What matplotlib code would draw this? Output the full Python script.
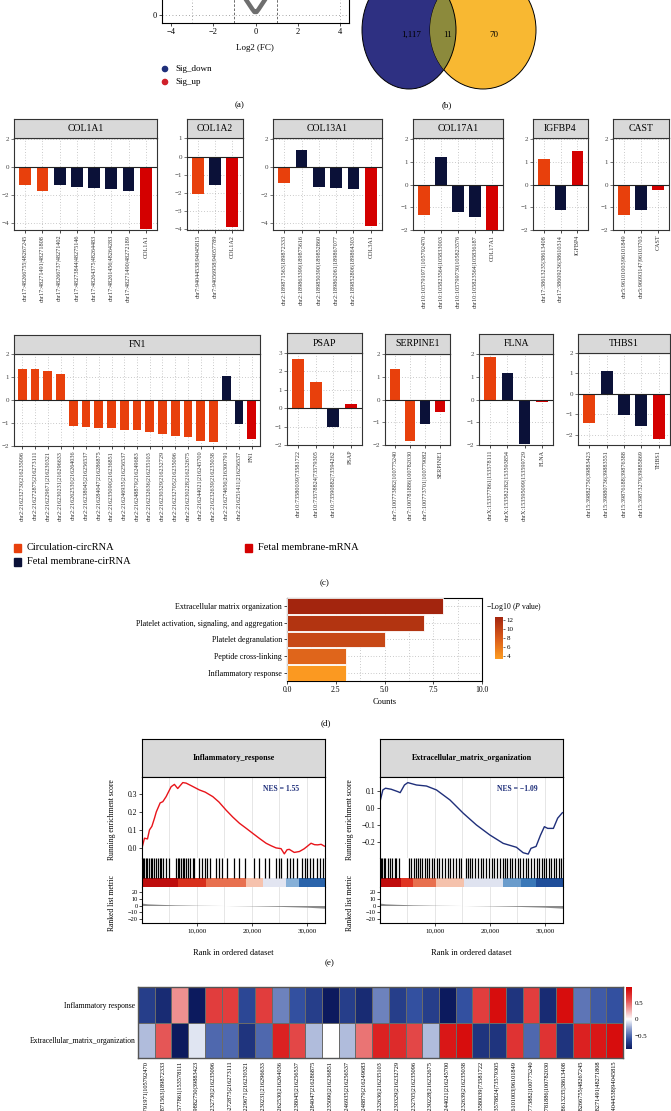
import numpy as np
import matplotlib
matplotlib.use('Agg')
import matplotlib.pyplot as plt
from matplotlib.patches import Ellipse, Rectangle
from matplotlib.colors import LinearSegmentedColormap, Normalize
from matplotlib.cm import ScalarMappable

plt.rcParams['font.family'] = ['Liberation Serif', 'DejaVu Serif']
plt.rcParams['mathtext.fontset'] = 'stix'

W, H = 671, 1111

# ---------------- data ----------------
# (a) volcano (visible bottom part only)
volc_fc = [-0.55, -0.45, -0.35, -0.25, -0.15, -0.05, 0.05, 0.15, 0.25, 0.35, 0.45, 0.55]
volc_logp = [2.4, 1.9, 1.5, 1.1, 0.7, 0.35, 0.35, 0.7, 1.1, 1.5, 1.9, 2.4]

# (b) venn counts
venn_counts = ['1,117', '11', '70']

# (c) bar panels
kind_colors = {'c': '#e8400c', 'f': '#0b1138', 'm': '#d40000'}

col1a1_labels = ['chr17:48266755|48267245', 'chr17:48271491|48271808', 'chr17:48266737|48271402',
                 'chr17:48273844|48275146', 'chr17:48264375|48264483', 'chr17:48261456|48264283',
                 'chr17:48271490|48272189', 'COL1A1']
col1a1_values = [-1.27, -1.74, -1.32, -1.41, -1.53, -1.55, -1.72, -4.4]
col1a1_kinds = ['c', 'c', 'f', 'f', 'f', 'f', 'f', 'm']

col1a2_labels = ['chr7:94044538|94045815', 'chr7:94056958|94057789', 'COL1A2']
col1a2_values = [-2.06, -1.55, -3.87]
col1a2_kinds = ['c', 'f', 'm']

col13a1_labels = ['chr2:189871563|189872333', 'chr2:189863399|189875616', 'chr2:189850390|189852860',
                  'chr2:189862061|189867077', 'chr2:189852806|189864303', 'COL3A1']
col13a1_values = [-1.13, 1.18, -1.45, -1.54, -1.59, -4.2]
col13a1_kinds = ['c', 'f', 'f', 'f', 'f', 'm']

col17a1_labels = ['chr10:105791971|105792470', 'chr10:105823564|105833003', 'chr10:105799730|105823576',
                  'chr10:105823564|105836187', 'COL17A1']
col17a1_values = [-1.32, 1.21, -1.19, -1.44, -2.0]
col17a1_kinds = ['c', 'f', 'f', 'f', 'm']

igfbp4_labels = ['chr17:38613235|38613408', 'chr17:38609236|38610314', 'IGFBP4']
igfbp4_values = [1.13, -1.13, 1.48]
igfbp4_kinds = ['c', 'f', 'm']

cast_labels = ['chr5:96101003|96101849', 'chr5:96093147|96103703', 'CAST']
cast_values = [-1.35, -1.11, -0.22]
cast_kinds = ['c', 'f', 'm']

fn1_labels = ['chr2:216232730|216235096', 'chr2:216272875|216273111', 'chr2:216229671|216230321',
              'chr2:216230231|216296633', 'chr2:216262530|216264036', 'chr2:216238045|216256537',
              'chr2:216284047|216286875', 'chr2:216235090|216236851', 'chr2:216246935|216256537',
              'chr2:216248879|216249683', 'chr2:216232636|216235103', 'chr2:216230329|216232729',
              'chr2:216232705|216235096', 'chr2:216230228|216232675', 'chr2:216244021|216245700',
              'chr2:216232639|216235038', 'chr2:216274656|216300791', 'chr2:216251411|216256537', 'FN1']
fn1_values = [1.35, 1.35, 1.28, 1.13, -1.13, -1.19, -1.23, -1.23, -1.29, -1.29, -1.41, -1.49,
              -1.58, -1.61, -1.77, -1.81, 1.04, -1.04, -1.71]
fn1_kinds = ['c'] * 16 + ['f', 'f', 'm']

psap_labels = ['chr10:73580039|73581722', 'chr10:73578824|73579305', 'chr10:73590882|73594262', 'PSAP']
psap_values = [2.7, 1.45, -1.03, 0.25]
psap_kinds = ['c', 'c', 'f', 'm']

serpine1_labels = ['chr7:100773882|100775240', 'chr7:100781886|100782030', 'chr7:100773701|100779082', 'SERPINE1']
serpine1_values = [1.32, -1.84, -1.09, -0.56]
serpine1_kinds = ['c', 'c', 'f', 'm']

flna_labels = ['chrX:153577861|153578111', 'chrX:153582282|153593854', 'chrX:153595099|153599729', 'FLNA']
flna_values = [1.88, 1.15, -1.94, -0.1]
flna_kinds = ['c', 'f', 'f', 'm']

thbs1_labels = ['chr15:39882750|39883423', 'chr15:39880736|39883551', 'chr15:39876188|39876388',
                'chr15:39873279|39885869', 'THBS1']
thbs1_values = [-1.44, 1.1, -1.05, -1.57, -2.21]
thbs1_kinds = ['c', 'f', 'f', 'f', 'm']

# (d) GO enrichment
go_terms = ['Extracellular matrix organization', 'Platelet activation, signaling, and aggregation',
            'Platelet degranulation', 'Peptide cross-linking', 'Inflammatory response']
go_counts = [8, 7, 5, 3, 3]
go_logp = [12.8, 11.4, 9.6, 7.2, 3.6]

# (e) GSEA
left_es_rank = [0, 450, 1000, 1360, 1800, 2270, 2600, 2880, 3300, 3790, 4390, 4800, 5300, 5900, 6500,
                7420, 8030, 9000, 10450, 11500, 12880, 14000, 15300, 16500, 17730, 19000, 20150, 21400,
                22580, 23500, 24400, 25300, 25900, 26400, 26800, 27700, 28640, 29500, 30200, 30760,
                31400, 31970, 32600, 33180]
left_es = [0.0, 0.054, 0.05, 0.1, 0.12, 0.165, 0.2, 0.22, 0.25, 0.257, 0.285, 0.31, 0.34, 0.353, 0.33,
           0.363, 0.36, 0.345, 0.322, 0.31, 0.285, 0.255, 0.21, 0.172, 0.137, 0.108, 0.081, 0.052,
           0.026, 0.012, 0.0, -0.004, -0.033, -0.01, -0.008, -0.025, -0.02, -0.005, 0.012, 0.026,
           0.018, 0.017, 0.02, 0.01]
right_es_rank = [0, 520, 1000, 2030, 3240, 3670, 4450, 5060, 6640, 8450, 10270, 12730, 15150, 17550,
                 20000, 22420, 24820, 26050, 26970, 27480, 28400, 29200, 29910, 30520, 31550, 32330, 33180]
right_es = [0.037, 0.106, 0.116, 0.11, 0.096, 0.09, 0.135, 0.149, 0.135, 0.129, 0.106, 0.047, -0.031,
            -0.1, -0.159, -0.208, -0.231, -0.263, -0.271, -0.237, -0.226, -0.16, -0.11, -0.12, -0.12,
            -0.06, -0.028]
left_hits = [150, 400, 700, 950, 1300, 1600, 1900, 2200, 2500, 2900, 3200, 3500, 3900, 4300, 5000,
             6200, 6500, 6800, 7100, 7400, 7700, 8000, 8400, 8800, 9200, 9500, 10300, 10900, 11400,
             11900, 12400, 13500, 14100, 14500, 15500, 16800, 17700, 18800, 20300, 21200, 22400,
             23100, 24400, 24900, 25300, 26300, 26900, 27400, 28200, 29100, 29600, 30100, 30500,
             31200, 31800, 32400, 32900]
right_hits = [100, 400, 700, 1000, 1400, 1800, 2200, 2700, 3000, 3400, 5300, 5700, 6100, 6500, 6900,
              7300, 7700, 8100, 8500, 9000, 9400, 9800, 10300, 10800, 11300, 11800, 12300, 12800,
              13300, 13800, 14300, 14700, 15600, 16000, 16400, 16800, 17300, 17800, 18300, 18800,
              19300, 19800, 20300, 20800, 21300, 21800, 22300, 22700, 23100, 23600, 24100, 24600,
              25100, 25500, 26000, 26500, 27000, 27500, 28000, 28500, 29000, 29400, 29800, 30200,
              30700, 31100, 31600, 32000, 32500, 32900]
left_band_edges = [0, 6500, 11650, 18900, 21950, 26200, 28600, 33300]
left_band_colors = ['#be0d0d', '#d8301c', '#e8704f', '#f6c2ad', '#e2e5f1', '#86b0d8', '#2a64ab']
right_band_edges = [0, 3800, 5950, 10200, 15350, 22300, 25700, 28400, 33300]
right_band_colors = ['#c00c0c', '#e03422', '#e8704f', '#f5c2ac', '#dfe3f0', '#6a9ccc', '#3a78b8', '#1f4e9a']
metric_rank = [0, 1000, 3000, 6000, 10000, 15000, 20000, 25000, 30000, 33300]
metric_val = [3.5, 2.5, 1.8, 1.0, 0.4, 0.0, -0.5, -1.3, -2.5, -4.0]

# (f) heatmap
hm_rows = ['Inflammatory response', 'Extracellular_matrix_organization']
hm_labels = ['chr10:105791971|105792470', 'chr2:189871563|189872333', 'chrX:153577861|153578111',
             'chr15:39882750|39883423', 'chr2:216232730|216235096', 'chr2:216272875|216273111',
             'chr2:216229671|216230321', 'chr2:216230231|216296633', 'chr2:216262530|216264036',
             'chr2:216238045|216256537', 'chr2:216284047|216286875', 'chr2:216235090|216236851',
             'chr2:216246935|216256537', 'chr2:216248879|216249683', 'chr2:216232636|216235103',
             'chr2:216230329|216232729', 'chr2:216232705|216235096', 'chr2:216230228|216232675',
             'chr2:216244021|216245700', 'chr2:216232639|216235038', 'chr10:73580039|73581722',
             'chr10:73578824|73579305', 'chr5:96101003|96101849', 'chr7:100773882|100775240',
             'chr7:100781886|100782030', 'chr17:38613235|38613408', 'chr17:48266755|48267245',
             'chr17:48271491|48271808', 'chr7:94044538|94045815']
hm_inflam = [-0.7, -0.8, 0.35, -0.95, 0.65, 0.65, -0.65, 0.65, -0.4, -0.6, -0.7, -0.95, -0.7, -0.8,
             -0.4, -0.7, -0.6, -0.7, -0.95, -0.6, 0.65, 0.9, -0.75, 0.65, -0.8, 0.9, -0.45, -0.55, -0.6]
hm_ecm = [-0.2, 0.55, -0.95, -0.08, -0.5, -0.5, -0.75, -0.5, 0.8, 0.6, -0.2, 0.0, -0.2, 0.45, 0.8,
          0.75, 0.6, -0.2, 0.85, 0.9, -0.75, -0.75, 0.7, -0.5, 0.7, -0.75, 0.8, 0.85, 0.9]

# ---------------- figure ----------------
fig = plt.figure(figsize=(W / 100, H / 100), dpi=100)


def px_axes(x0, y0, x1, y1):
    return fig.add_axes([x0 / W, 1 - y1 / H, (x1 - x0) / W, (y1 - y0) / H])


def minus(v):
    return ('%g' % v).replace('-', '\u2212')


# overlay for free text / venn
ov = px_axes(0, 0, W, H)
ov.set_xlim(0, W)
ov.set_ylim(H, 0)
ov.axis('off')

# ---- (a) volcano ----
ax_a = px_axes(162, -100, 349, 22.7)
ax_a.plot(volc_fc, volc_logp, color='#6e6e6e', lw=3.2, solid_joinstyle='round', solid_capstyle='round')
ax_a.set_xlim(-4.41, 4.41)
ax_a.set_ylim(-1, 14.4)
ax_a.set_xticks([-4, -2, 0, 2, 4])
ax_a.set_xticklabels([minus(v) for v in [-4, -2, 0, 2, 4]])
ax_a.set_yticks([0])
ax_a.tick_params(labelsize=6, length=2, width=0.5, pad=2)
for v in [-3, 4]:
    ax_a.axvline(v, color='#888', ls=(0, (1, 3)), lw=0.6)
for v in [-1, 1]:
    ax_a.axvline(v, color='#555', ls=(0, (3, 2)), lw=0.6)
ax_a.axhline(0, color='#888', ls=(0, (1, 3)), lw=0.6)
for s in ax_a.spines.values():
    s.set_linewidth(0.8)
ov.text(255, 48, 'Log2 (FC)', ha='center', va='center', fontsize=6.5)
ov.scatter([165, 165], [69, 82], s=14, color=['#1f2f7a', '#d0202a'])
ov.text(175, 69, 'Sig_down', va='center', fontsize=6.5)
ov.text(175, 82, 'Sig_up', va='center', fontsize=6.5)
ov.text(240, 105, '(a)', ha='center', va='center', fontsize=6.5)

# ---- (b) venn ----
ov.add_patch(Ellipse((409, 30), 94, 118, facecolor='#2e3082', edgecolor='black', lw=0.7))
ov.add_patch(Ellipse((483, 30), 106, 118, facecolor='#f8b832', edgecolor='black', lw=0.7))
lens = Ellipse((409, 30), 94, 118, facecolor='#8c8a3c', edgecolor='black', lw=0.7)
ov.add_patch(lens)
lens.set_clip_path(Ellipse((483, 30), 106, 118, transform=ov.transData))
ov.text(411, 35, venn_counts[0], ha='center', va='center', fontsize=6.5)
ov.text(448, 35, venn_counts[1], ha='center', va='center', fontsize=6.5)
ov.text(494, 35, venn_counts[2], ha='center', va='center', fontsize=6.5)
ov.text(447, 105, '(b)', ha='center', va='center', fontsize=6.5)


# ---- (c) bar panels ----
def bar_panel(x0, x1, y_strip, y_top, y_bot, title, labels, values, kinds, ylim, yticks):
    ax = px_axes(x0, y_top, x1, y_bot)
    n = len(values)
    xs = np.arange(n)
    ax.bar(xs, values, width=0.68, color=[kind_colors[k] for k in kinds], zorder=3)
    ax.axhline(0, color='#222', lw=0.8, zorder=4)
    ax.set_xlim(-0.65, n - 0.35)
    ax.set_ylim(*ylim)
    ax.set_yticks(yticks)
    ax.set_yticklabels([minus(t) for t in yticks])
    ax.set_xticks(xs)
    ax.set_xticklabels(labels, rotation=90, fontsize=4.4, color='#333')
    ax.tick_params(axis='y', labelsize=5, length=2, width=0.5, pad=1.5, colors='#444')
    ax.tick_params(axis='x', length=2, width=0.5, pad=1.5)
    ax.grid(True, ls=(0, (1, 3)), color='#999', lw=0.5, zorder=0)
    for s in ax.spines.values():
        s.set_color('#333')
        s.set_linewidth(0.8)
    st = px_axes(x0, y_strip, x1, y_top)
    st.set_facecolor('#d9d9d9')
    st.set_xticks([])
    st.set_yticks([])
    for s in st.spines.values():
        s.set_color('#333')
        s.set_linewidth(0.8)
    st.text(0.5, 0.5, title, ha='center', va='center', fontsize=7, transform=st.transAxes)


bar_panel(14, 157, 119, 138, 230, 'COL1A1', col1a1_labels, col1a1_values, col1a1_kinds, (-4.5, 2.05), [-4, -2, 0, 2])
bar_panel(187, 243, 119, 138, 230, 'COL1A2', col1a2_labels, col1a2_values, col1a2_kinds, (-4.03, 1.02), [-4, -3, -2, -1, 0, 1])
bar_panel(273, 382, 119, 138, 230, 'COL13A1', col13a1_labels, col13a1_values, col13a1_kinds, (-4.5, 2.05), [-4, -2, 0, 2])
bar_panel(413, 503, 119, 138, 230, 'COL17A1', col17a1_labels, col17a1_values, col17a1_kinds, (-2, 2.05), [-2, -1, 0, 1, 2])
bar_panel(533, 588, 119, 138, 230, 'IGFBP4', igfbp4_labels, igfbp4_values, igfbp4_kinds, (-2, 2.05), [-2, -1, 0, 1, 2])
bar_panel(613, 669, 119, 138, 230, 'CAST', cast_labels, cast_values, cast_kinds, (-2, 2.05), [-2, -1, 0, 1, 2])

bar_panel(14, 260, 335, 354, 446, 'FN1', fn1_labels, fn1_values, fn1_kinds, (-2, 2), [-2, -1, 0, 1, 2])
bar_panel(287, 362, 333, 353, 445, 'PSAP', psap_labels, psap_values, psap_kinds, (-2, 3), [-2, -1, 0, 1, 2, 3])
bar_panel(385, 450, 334, 354, 445, 'SERPINE1', serpine1_labels, serpine1_values, serpine1_kinds, (-2, 2), [-2, -1, 0, 1, 2])
bar_panel(479, 553, 334, 354, 445, 'FLNA', flna_labels, flna_values, flna_kinds, (-2, 2), [-2, -1, 0, 1, 2])
bar_panel(578, 670, 334, 353, 445, 'THBS1', thbs1_labels, thbs1_values, thbs1_kinds, (-2.5, 2.0), [-2, -1, 0, 1, 2])

# legend of (c)
for (x, y, k, lab) in [(14, 548, 'c', 'Circulation-circRNA'), (14, 562, 'f', 'Fetal membrane-cirRNA'),
                       (245, 548, 'm', 'Fetal membrane-mRNA')]:
    ov.add_patch(Rectangle((x, y - 4), 7, 8, color=kind_colors[k]))
    ov.text(x + 13, y, lab, va='center', fontsize=7.5)
ov.text(325, 583, '(c)', ha='center', va='center', fontsize=6.5)

# ---- (d) GO bars ----
cmap_d = LinearSegmentedColormap.from_list('go', ['#fd9d21', '#d95a1a', '#a3250e'])
norm_d = Normalize(3.3, 12.7)
ax_d = px_axes(287, 598, 482, 681)
ypos = np.arange(len(go_terms))[::-1]
ax_d.barh(ypos, go_counts, height=0.94, color=cmap_d(norm_d(go_logp)), edgecolor='white', lw=0.6, zorder=3)
ax_d.set_xlim(0, 10)
ax_d.set_ylim(-0.5, len(go_terms) - 0.5)
ax_d.set_yticks(ypos)
ax_d.set_yticklabels(go_terms, fontsize=5.8)
ax_d.set_xticks([0, 2.5, 5, 7.5, 10])
ax_d.set_xticklabels(['0.0', '2.5', '5.0', '7.5', '10.0'], fontsize=5.5)
ax_d.set_xticks([1.25, 3.75, 6.25, 8.75], minor=True)
ax_d.tick_params(axis='both', length=2, width=0.5, pad=1.5)
ax_d.tick_params(axis='x', which='minor', length=0)
ax_d.grid(True, which='both', ls=(0, (1, 3)), color='#999', lw=0.5, zorder=0)
ax_d.set_xlabel('Counts', fontsize=6, labelpad=3)
for s in ax_d.spines.values():
    s.set_linewidth(0.8)
cax_d = px_axes(495, 617, 503, 659)
cb = fig.colorbar(ScalarMappable(norm=norm_d, cmap=cmap_d), cax=cax_d, ticks=[4, 6, 8, 10, 12])
cb.outline.set_visible(False)
cax_d.tick_params(labelsize=5, length=1.5, width=0.4, pad=1)
ov.text(486, 607, '\u2212Log10 ($P$ value)', va='center', fontsize=5.5)
ov.text(326, 723, '(d)', ha='center', va='center', fontsize=6.5)


# ---- (e) GSEA ----
def gsea_panel(x0, x1, title, es_rank, es, color, ylim, yticks, hits, b_edges, b_colors, nes):
    st = px_axes(x0, 739, x1, 777)
    st.set_facecolor('#d9d9d9')
    st.set_xticks([])
    st.set_yticks([])
    st.text(0.5, 0.5, title, ha='center', va='center', fontsize=5.8, fontweight='bold', transform=st.transAxes)
    for s in st.spines.values():
        s.set_linewidth(0.8)

    ax = px_axes(x0, 777, x1, 858)
    ax.plot(es_rank, es, color=color, lw=1.0)
    ax.set_xlim(0, 33300)
    ax.set_ylim(*ylim)
    ax.set_yticks(yticks)
    ax.set_yticklabels(['%.1f' % t if t >= 0 else '\u2212%.1f' % -t for t in yticks])
    ax.set_xticks([])
    for v in range(5000, 33300, 5000):
        ax.axvline(v, color='#e2e2e2', lw=0.6, zorder=0)
    ax.spines['bottom'].set_visible(False)
    ax.tick_params(labelsize=5.5, length=2, width=0.5, pad=1.5)
    ax.text(0.86, 0.85, nes, transform=ax.transAxes, ha='right', va='center', fontsize=5.5,
            color='#1f2f7a', fontweight='bold')

    hx = px_axes(x0, 858, x1, 887)
    hx.set_xlim(0, 33300)
    hx.set_ylim(0, 1)
    hx.vlines(hits, 0.31, 1, color='black', lw=0.9)
    for a, b, c in zip(b_edges[:-1], b_edges[1:], b_colors):
        hx.axvspan(a, b, 0, 0.31, color=c, lw=0)
    hx.set_xticks([])
    hx.set_yticks([])
    hx.spines['top'].set_visible(False)
    hx.spines['bottom'].set_visible(False)

    rx = px_axes(x0, 887, x1, 923)
    rx.fill_between(metric_rank, metric_val, 0, color='#8a8a8a', lw=0)
    rx.set_xlim(0, 33300)
    rx.set_ylim(-25.9, 27.4)
    for v in range(5000, 33300, 5000):
        rx.axvline(v, color='#e2e2e2', lw=0.6, zorder=0)
    rx.set_yticks([20, 10, 0, -10, -20])
    rx.set_yticklabels(['20', '10', '0', '\u221210', '\u221220'])
    rx.set_xticks([10000, 20000, 30000])
    rx.set_xticklabels(['10,000', '20,000', '30,000'])
    rx.tick_params(labelsize=5, length=2, width=0.5, pad=1.5)
    rx.tick_params(axis='y', labelsize=4.6, pad=1)
    rx.spines['top'].set_visible(False)
    for a in (ax, hx, rx):
        for s in a.spines.values():
            s.set_linewidth(0.8)
    xc = (x0 + x1) / 2
    ov.text(xc, 953, 'Rank in ordered dataset', ha='center', va='center', fontsize=6)
    ov.text(x0 - 30, 820, 'Running enrichment score', ha='center', va='center', rotation=90, fontsize=5.5)
    ov.text(x0 - 30, 903, 'Ranked list metric', ha='center', va='center', rotation=90, fontsize=5.5)


gsea_panel(142, 325, 'Inflammatory_response', left_es_rank, left_es, '#e8141a', (-0.056, 0.394),
           [0.0, 0.1, 0.2, 0.3], left_hits, left_band_edges, left_band_colors, 'NES = 1.55')
gsea_panel(380, 563, 'Extracellular_matrix_organization', right_es_rank, right_es, '#1f2f7a', (-0.294, 0.182),
           [-0.2, -0.1, 0.0, 0.1], right_hits, right_band_edges, right_band_colors, 'NES = \u22121.09')
ov.text(330, 963, '(e)', ha='center', va='center', fontsize=6.5)

# ---- (f) heatmap ----
vmin, vmax = -0.9, 0.97
stops = [(-0.9, '#0c1a5e'), (-0.6, '#3350a0'), (-0.3, '#8a9ccc'), (0.0, '#ffffff'),
         (0.3, '#f0a0a0'), (0.6, '#e34848'), (0.97, '#d40000')]
cmap_h = LinearSegmentedColormap.from_list('hm', [((v - vmin) / (vmax - vmin), c) for v, c in stops])
norm_h = Normalize(vmin, vmax)
ax_h = px_axes(138, 987, 623, 1058)
mat = np.array([hm_inflam, hm_ecm])
ax_h.pcolormesh(np.arange(len(hm_labels) + 1), np.arange(3), mat, cmap=cmap_h, norm=norm_h,
                edgecolors='#6a6a6a', linewidth=0.5)
ax_h.set_xlim(0, len(hm_labels))
ax_h.set_ylim(2, 0)
ax_h.set_xticks(np.arange(len(hm_labels)) + 0.5)
ax_h.set_xticklabels(hm_labels, rotation=90, fontsize=4.6)
ax_h.set_yticks([0.5, 1.5])
ax_h.set_yticklabels(hm_rows, fontsize=5.5)
ax_h.tick_params(length=0, pad=2)
for s in ax_h.spines.values():
    s.set_color('#555')
    s.set_linewidth(1.0)
cax_h = px_axes(626, 987, 632, 1049)
cbh = fig.colorbar(ScalarMappable(norm=norm_h, cmap=cmap_h), cax=cax_h, ticks=[-0.5, 0, 0.5])
cbh.ax.set_yticklabels(['\u22120.5', '0', '0.5'])
cbh.outline.set_visible(False)
cax_h.tick_params(labelsize=5, length=0, pad=2)

fig.savefig('out.png', dpi=100)
